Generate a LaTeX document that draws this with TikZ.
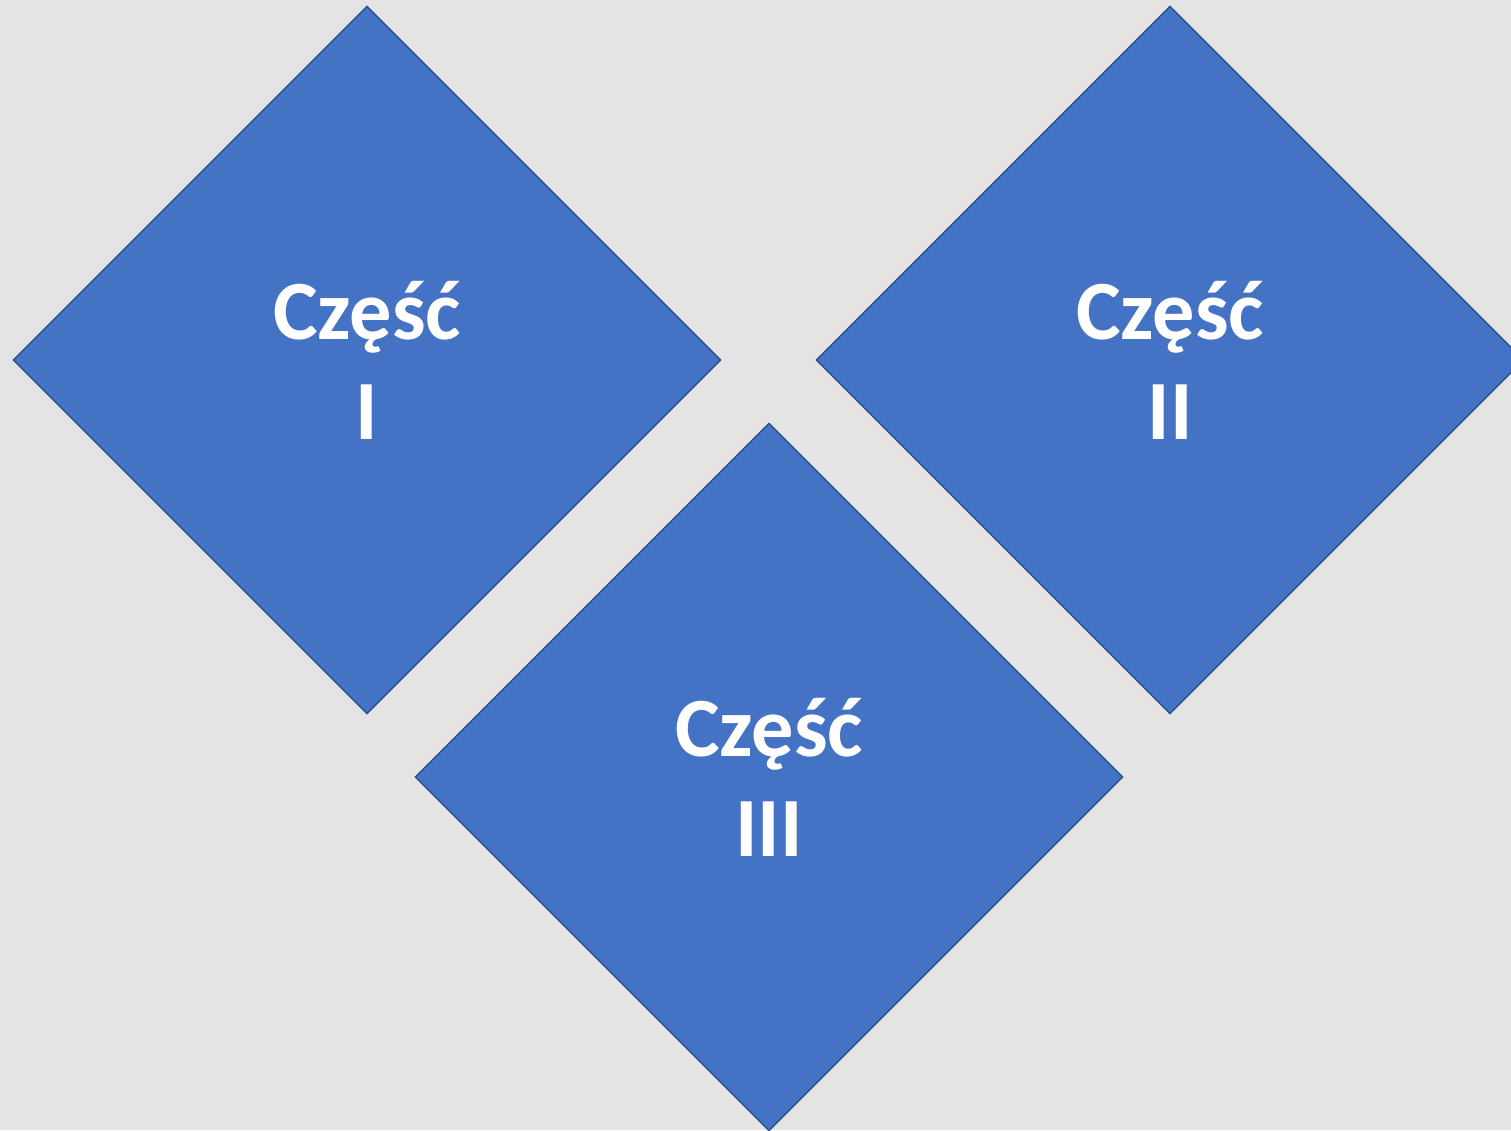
\documentclass[tikz,border=0pt]{standalone}
\usepackage{fontspec}
\setmainfont{Carlito}
\usetikzlibrary{shapes.geometric}
\definecolor{bggray}{HTML}{E4E4E4}
\definecolor{partblue}{HTML}{4472C4}
\definecolor{partedge}{HTML}{2F528F}
\begin{document}
\begin{tikzpicture}[
  x=0.02cm, y=-0.02cm,
  part/.style={diamond, draw=partedge, fill=partblue, line width=0.8pt,
    minimum width=14.16cm, minimum height=14.16cm, inner sep=0pt,
    text=white, align=center,
    font=\bfseries\fontsize{48}{57}\selectfont}
]
\clip (0,0) rectangle (1511,1130);
\fill[bggray] (0,0) rectangle (1511,1130);
\node[part] (part1) at (367,360) {Część\\I};
\node[part] (part2) at (1170,360) {Część\\II};
\node[part] (part3) at (769,777) {Część\\III};
\end{tikzpicture}
\end{document}
